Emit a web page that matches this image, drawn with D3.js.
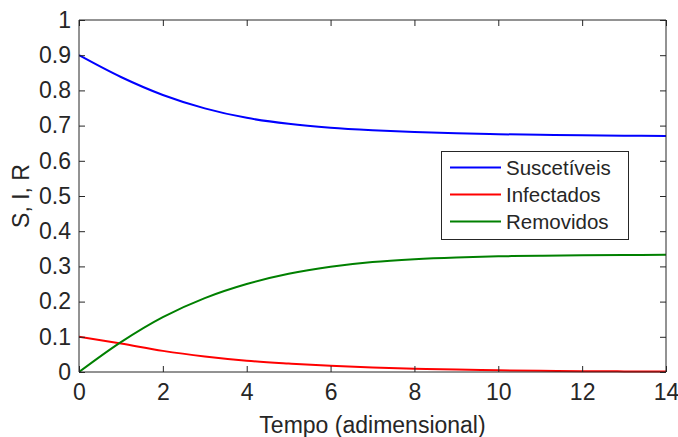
<!DOCTYPE html>
<html><head><meta charset="utf-8">
<script src="https://cdn.jsdelivr.net/npm/d3@7"></script>
<style>body{margin:0;background:#fff}svg{display:block}text{font-family:"Liberation Sans",Arial,sans-serif;fill:#262626}</style>
</head><body><svg id="c" width="678" height="437"></svg>
<script>
const tempo = [0,1,2,3,4,5,6,7,8,9,10,11,12,13,14];
const suscetiveis = [0.900,0.838,0.787,0.749,0.722,0.705,0.694,0.687,0.682,0.678,0.6755,0.6737,0.6724,0.6714,0.6707];
const infectados  = [0.100,0.081,0.060,0.044,0.032,0.024,0.0175,0.013,0.0095,0.0068,0.0048,0.0034,0.0024,0.0017,0.0012];
const removidos   = [0.000,0.085,0.156,0.210,0.250,0.279,0.299,0.3125,0.3205,0.3255,0.3285,0.3305,0.3317,0.3325,0.333];
const xTicks = [0,2,4,6,8,10,12,14];
const yTicks = [0,0.1,0.2,0.3,0.4,0.5,0.6,0.7,0.8,0.9,1];
const seriesNames = ["Suscetíveis","Infectados","Removidos"];
const seriesColors = ["#0000ff","#ff0000","#008000"];
const seriesData = [suscetiveis, infectados, removidos];

const svg = d3.select("#c");
const L=79,R=666,T=20,B=372;
const x = d3.scaleLinear().domain([0,14]).range([L,R]);
const y = d3.scaleLinear().domain([0,1]).range([B,T]);
const axCol="#262626", fs=23;

const line = d3.line().x((d,i)=>x(tempo[i])).y(d=>y(d)).curve(d3.curveCatmullRom.alpha(0.5));
svg.append("clipPath").attr("id","pc").append("rect").attr("x",L).attr("y",T-2).attr("width",R-L).attr("height",B-T+4);
seriesData.forEach((s,k)=>{
  svg.append("path").datum(s).attr("d",line).attr("fill","none")
    .attr("stroke",seriesColors[k]).attr("stroke-width",2).attr("clip-path","url(#pc)");
});

const gx = svg.append("g").attr("transform",`translate(0,${B})`)
  .call(d3.axisBottom(x).tickValues(xTicks).tickSize(-6).tickPadding(12).tickFormat(d3.format("d")));
const gxt = svg.append("g").attr("transform",`translate(0,${T})`)
  .call(d3.axisTop(x).tickValues(xTicks).tickSize(-6).tickFormat(""));
const gy = svg.append("g").attr("transform",`translate(${L},0)`)
  .call(d3.axisLeft(y).tickValues(yTicks).tickSize(-6).tickPadding(8).tickFormat(d=>d===0||d===1?d3.format("d")(d):d3.format(".1f")(d)));
const gyr = svg.append("g").attr("transform",`translate(${R},0)`)
  .call(d3.axisRight(y).tickValues(yTicks).tickSize(-6).tickFormat(""));
[gx,gxt,gy,gyr].forEach(g=>{
  g.selectAll(".domain").attr("stroke",axCol).attr("stroke-width",1);
  g.selectAll(".tick line").attr("stroke",axCol).attr("stroke-width",1);
  g.selectAll("text").attr("font-size",fs).attr("fill",axCol).attr("font-family",'"Liberation Sans",Arial,sans-serif');
});
gx.selectAll(".domain").attr("d",`M${L},0H${R}`);
gxt.selectAll(".domain").attr("d",`M${L},0H${R}`);
gy.selectAll(".domain").attr("d",`M0,${B}V${T}`);
gyr.selectAll(".domain").attr("d",`M0,${B}V${T}`);

svg.append("text").attr("x",(L+R)/2).attr("y",433).attr("text-anchor","middle").attr("font-size",23).text("Tempo (adimensional)");
svg.append("text").attr("transform",`translate(29,${(T+B)/2}) rotate(-90)`).attr("text-anchor","middle").attr("font-size",23).text("S, I, R");

const lg = svg.append("g");
lg.append("rect").attr("x",441.5).attr("y",151.5).attr("width",187).attr("height",88).attr("fill","#fff").attr("stroke",axCol).attr("stroke-width",1);
seriesNames.forEach((n,k)=>{
  const yy = 167.5 + k*27;
  lg.append("line").attr("x1",450).attr("x2",501).attr("y1",yy).attr("y2",yy).attr("stroke",seriesColors[k]).attr("stroke-width",2);
  lg.append("text").attr("x",506).attr("y",yy+7.5).attr("font-size",20.5).attr("fill","#000").text(n);
});
</script></body></html>
